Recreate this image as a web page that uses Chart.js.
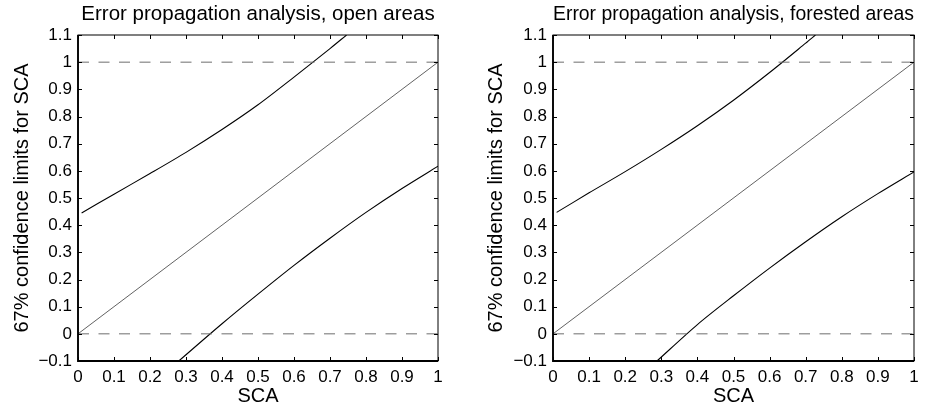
<!DOCTYPE html>
<html>
<head>
<meta charset="utf-8">
<script src="https://cdn.jsdelivr.net/npm/chart.js@4/dist/chart.umd.min.js"></script>
<style>
  html, body { margin: 0; padding: 0; background: #fff; }
  .wrap { position: relative; width: 927px; height: 408px; }
  .pane { position: absolute; top: 0; height: 408px; }
  #cOpen { left: 0; width: 463px; }
  #cForest { left: 463px; width: 464px; }
</style>
</head>
<body>
<div class="wrap">
  <div class="pane" id="cOpen"><canvas id="chOpen"></canvas></div>
  <div class="pane" id="cForest"><canvas id="chForest"></canvas></div>
</div>
<script>
// tick values for both panels
const xTicks = [0, 0.1, 0.2, 0.3, 0.4, 0.5, 0.6, 0.7, 0.8, 0.9, 1];
const yTicks = [-0.1, 0, 0.1, 0.2, 0.3, 0.4, 0.5, 0.6, 0.7, 0.8, 0.9, 1, 1.1];

// 1:1 reference line and the 0 / 1 bounds
const idX = [0, 1];
const idY = [0, 1];
const boundLevels = [0, 1];

// open areas: upper and lower 67% limits
const openUpX = [0.01, 0.1, 0.2, 0.3, 0.4, 0.5, 0.6, 0.7, 0.746];
const openUpY = [0.445, 0.514, 0.590, 0.668, 0.752, 0.843, 0.945, 1.05, 1.1];
const openLoX = [0.28, 0.4, 0.5, 0.6, 0.7, 0.8, 0.9, 1.0];
const openLoY = [-0.1, 0.037, 0.146, 0.252, 0.352, 0.447, 0.535, 0.617];

// forested areas
const forUpX = [0.01, 0.1, 0.2, 0.3, 0.4, 0.5, 0.6, 0.7, 0.727];
const forUpY = [0.447, 0.519, 0.597, 0.679, 0.766, 0.860, 0.962, 1.07, 1.1];
const forLoX = [0.288, 0.4, 0.5, 0.6, 0.7, 0.8, 0.9, 1.0];
const forLoY = [-0.1, 0.034, 0.140, 0.242, 0.339, 0.431, 0.516, 0.596];

const FONT = '"Liberation Sans", Arial, Helvetica, sans-serif';
const pts = (xs, ys) => xs.map((x, i) => ({ x, y: ys[i] }));
const fmt = v => String(Math.round(v * 10) / 10).replace('-', '\u2212');

// box around the plot area plus inward tick marks on all four sides
const frame = {
  id: 'frame',
  afterDraw(chart) {
    const { ctx, chartArea: a, scales: { x, y } } = chart;
    const L = 4;
    ctx.save();
    ctx.strokeStyle = '#000';
    ctx.lineWidth = 1;
    ctx.beginPath();
    x.ticks.forEach(t => {
      const px = Math.round(x.getPixelForValue(t.value)) + 0.5;
      ctx.moveTo(px, a.bottom); ctx.lineTo(px, a.bottom - L);
      ctx.moveTo(px, a.top); ctx.lineTo(px, a.top + L);
    });
    y.ticks.forEach(t => {
      const py = Math.round(y.getPixelForValue(t.value)) + 0.5;
      ctx.moveTo(a.left, py); ctx.lineTo(a.left + L, py);
      ctx.moveTo(a.right, py); ctx.lineTo(a.right - L, py);
    });
    ctx.stroke();
    ctx.strokeRect(a.left, a.top, a.right - a.left, a.bottom - a.top);
    ctx.lineWidth = 1.8;
    ctx.beginPath();
    ctx.moveTo(a.left, a.top); ctx.lineTo(a.left, a.bottom); ctx.lineTo(a.right, a.bottom);
    ctx.stroke();
    ctx.restore();
  }
};

function makeChart(id, title, upper, lower, box) {
  const datasets = [
    ...boundLevels.map(v => ({
      data: pts([0, 1], [v, v]), borderColor: '#6e6e6e', borderWidth: 1, borderDash: [11, 9.5]
    })),
    { data: pts(idX, idY), borderColor: '#3a3a3a', borderWidth: 0.8 },
    { data: upper, borderColor: '#000', borderWidth: 1.1, tension: 0.3 },
    { data: lower, borderColor: '#000', borderWidth: 1.1, tension: 0.3 },
  ];
  return new Chart(document.getElementById(id), {
    type: 'line',
    data: { datasets },
    plugins: [frame],
    options: {
      responsive: true, maintainAspectRatio: false, animation: false,
      elements: { point: { radius: 0 } },
      layout: { padding: { left: 0, right: box.right, top: 0, bottom: 0 } },
      plugins: {
        legend: { display: false }, tooltip: { enabled: false },
        title: {
          display: true, text: title, fullSize: false, color: '#000',
          font: { family: FONT, size: 20.5, weight: 'normal' },
          padding: { top: 2, bottom: 8.4 }
        }
      },
      scales: {
        x: {
          type: 'linear', min: 0, max: 1,
          afterBuildTicks: s => { s.ticks = xTicks.map(value => ({ value })); },
          afterFit: s => { s.height = 47; },
          grid: { display: false, drawTicks: false },
          border: { display: false },
          ticks: { color: '#000', padding: 6, maxRotation: 0, font: { family: FONT, size: 17 }, callback: fmt },
          title: { display: true, text: 'SCA', color: '#000', font: { family: FONT, size: 20 }, padding: { top: 0, bottom: 0 } }
        },
        y: {
          type: 'linear', min: -0.1, max: 1.1,
          afterBuildTicks: s => { s.ticks = yTicks.map(value => ({ value })); },
          afterFit: s => { s.width = box.left; },
          grid: { display: false, drawTicks: false },
          border: { display: false },
          ticks: { color: '#000', padding: 6, font: { family: FONT, size: 17 }, callback: fmt },
          title: { display: true, text: '67% confidence limits for SCA', color: '#000', font: { family: FONT, size: 20 }, padding: { top: box.titlePad, bottom: 0 } }
        }
      }
    }
  });
}

makeChart('chOpen', 'Error propagation analysis, open areas',
  pts(openUpX, openUpY), pts(openLoX, openLoY), { left: 78, right: 25, titlePad: 10 });
makeChart('chForest', 'Error propagation analysis, forested areas',
  pts(forUpX, forUpY), pts(forLoX, forLoY), { left: 90, right: 13, titlePad: 21 });
</script>
</body>
</html>
